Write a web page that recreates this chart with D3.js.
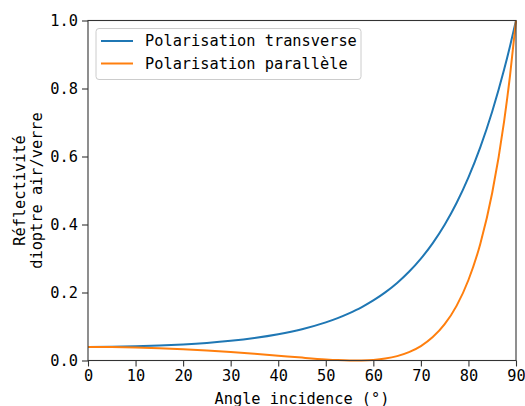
<!DOCTYPE html>
<html>
<head>
<meta charset="utf-8">
<script src="https://cdn.jsdelivr.net/npm/d3@7"></script>
<style>
  html, body { margin: 0; padding: 0; background: #fff; }
  svg { display: block; }
  text { font-family: "DejaVu Sans Mono", monospace; fill: #000; }
</style>
</head>
<body>
<svg id="chart" width="525" height="406"></svg>
<script>
// Reflectance of an air/glass interface versus angle of incidence (degrees)
const angles = [0, 5, 10, 15, 20, 25, 30, 35, 40, 45, 50, 52.5, 55, 56.31, 57.5, 60, 62.5, 65, 67.5, 70, 72.5, 75, 77.5, 80, 82.5, 85, 87.5, 88.75, 90];
const transverse = [0.04, 0.04041, 0.04166, 0.04383, 0.04708, 0.05162, 0.05779, 0.06608, 0.07716, 0.09201, 0.11205, 0.12461, 0.13927, 0.1479, 0.15645, 0.17657, 0.20023, 0.22806, 0.26088, 0.29959, 0.34532, 0.39935, 0.46319, 0.53858, 0.62755, 0.73234, 0.85553, 0.92494, 1.0];
const parallel = [0.04, 0.03959, 0.03837, 0.03633, 0.03345, 0.02975, 0.02525, 0.02004, 0.01431, 0.00847, 0.00328, 0.00134, 0.000178, 0.0, 0.000166, 0.0018, 0.00576, 0.01296, 0.02465, 0.04249, 0.0688, 0.10676, 0.16073, 0.2368, 0.34357, 0.49324, 0.70344, 0.83889, 1.0];

const seriesNames = ["Polarisation transverse", "Polarisation parallèle"];
const seriesColors = ["#1f77b4", "#ff7f0e"];
const xTicks = [0, 10, 20, 30, 40, 50, 60, 70, 80, 90];
const yTicks = [0.0, 0.2, 0.4, 0.6, 0.8, 1.0];

const margin = { left: 88, top: 20.5, right: 9, bottom: 45.5 };
const W = 525, H = 406;
const iw = W - margin.left - margin.right;
const ih = H - margin.top - margin.bottom;

const svg = d3.select("#chart");
const g = svg.append("g").attr("transform", `translate(${margin.left},${margin.top})`);

const x = d3.scaleLinear().domain([0, 90]).range([0, iw]);
const y = d3.scaleLinear().domain([0, 1]).range([ih, 0]);

// Curves
const series = [transverse, parallel];
const line = d3.line()
  .x(d => x(d[0]))
  .y(d => y(d[1]))
  .curve(d3.curveMonotoneX);

g.append("clipPath").attr("id", "plotclip")
  .append("rect").attr("x", -2).attr("y", -2).attr("width", iw + 4).attr("height", ih + 4);

series.forEach((vals, i) => {
  g.append("path")
    .datum(angles.map((a, k) => [a, vals[k]]))
    .attr("fill", "none")
    .attr("stroke", seriesColors[i])
    .attr("stroke-width", 2)
    .attr("stroke-linejoin", "round")
    .attr("clip-path", "url(#plotclip)")
    .attr("d", line);
});

// Frame
g.append("rect")
  .attr("x", 0).attr("y", 0).attr("width", iw).attr("height", ih)
  .attr("fill", "none").attr("stroke", "#333").attr("stroke-width", 1.1);

// Axes
const fontSize = 15.3;
const xAxis = g.append("g").attr("transform", `translate(0,${ih})`)
  .call(d3.axisBottom(x).tickValues(xTicks).tickFormat(d3.format("d")).tickSizeOuter(0).tickSize(6).tickPadding(4));
const yAxis = g.append("g")
  .call(d3.axisLeft(y).tickValues(yTicks).tickFormat(d3.format(".1f")).tickSizeOuter(0).tickSize(6).tickPadding(4));

[xAxis, yAxis].forEach(ax => {
  ax.select(".domain").remove();
  ax.selectAll(".tick line").attr("stroke", "#333").attr("stroke-width", 1.1);
  ax.selectAll(".tick text")
    .attr("font-family", "DejaVu Sans Mono, monospace")
    .attr("font-size", fontSize)
    .attr("fill", "#000");
});

// Axis titles
svg.append("text")
  .attr("x", margin.left + iw / 2)
  .attr("y", 404)
  .attr("text-anchor", "middle")
  .attr("font-size", fontSize)
  .text("Angle incidence (°)");

const yLabel = svg.append("text")
  .attr("transform", `translate(0,${margin.top + ih / 2}) rotate(-90)`)
  .attr("text-anchor", "middle")
  .attr("font-size", fontSize);
yLabel.append("tspan").attr("x", 0).attr("y", 25).text("Réflectivité");
yLabel.append("tspan").attr("x", 0).attr("y", 42).text("dioptre air/verre");

// Legend
const legend = svg.append("g").attr("transform", "translate(96,28.5)");
legend.append("rect")
  .attr("x", 0).attr("y", 0).attr("width", 265).attr("height", 51)
  .attr("rx", 3).attr("ry", 3)
  .attr("fill", "#fff").attr("fill-opacity", 0.8)
  .attr("stroke", "#cccccc").attr("stroke-width", 1);
seriesNames.forEach((name, i) => {
  const cy = 12.5 + i * 22.5;
  legend.append("line")
    .attr("x1", 5).attr("x2", 37).attr("y1", cy).attr("y2", cy)
    .attr("stroke", seriesColors[i]).attr("stroke-width", 2);
  legend.append("text")
    .attr("x", 49).attr("y", cy + 5)
    .attr("font-size", fontSize)
    .text(name);
});
</script>
</body>
</html>
